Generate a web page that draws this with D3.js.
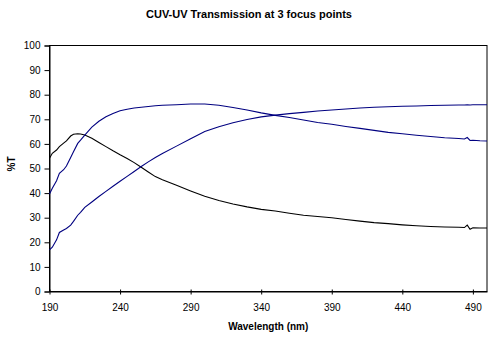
<!DOCTYPE html>
<html>
<head>
<meta charset="utf-8">
<script src="https://cdn.jsdelivr.net/npm/d3@7"></script>
<style>
html,body{margin:0;padding:0;background:#fff;}
svg{display:block;}
text{font-family:Arial,"Liberation Sans",sans-serif;fill:#000;}
</style>
</head>
<body>
<svg id="chart" width="495" height="337"></svg>
<script>
const titleText = "CUV-UV Transmission at 3 focus points";
const xTitle = "Wavelength (nm)";
const yTitle = "%T";
const xTicks = [190,240,290,340,390,440,490];
const yTicks = [0,10,20,30,40,50,60,70,80,90,100];

const wavelengths = [190,192,195,197,200,202,205,207,210,212,215,220,225,230,235,240,245,250,255,260,265,270,280,290,300,310,320,330,340,350,360,370,380,390,400,410,420,430,440,450,460,470,480,484,486,488,490,495,500];
const focusA = [54.2,56.2,57.5,58.9,60.3,61.2,63.2,63.9,64.1,64.0,63.6,62.3,60.6,58.9,57.2,55.6,54.1,52.4,50.5,48.6,46.7,45.4,43.2,40.9,38.7,37.0,35.6,34.4,33.4,32.7,31.8,31.0,30.5,30.0,29.3,28.6,28.0,27.6,27.1,26.7,26.4,26.2,26.1,26.0,27.0,25.3,25.9,25.8,25.8];
const focusB = [39.6,42.0,45.0,48.0,49.5,51.0,54.5,56.8,60.2,61.5,63.6,66.8,69.2,71.0,72.4,73.5,74.1,74.6,74.9,75.2,75.5,75.7,75.9,76.2,76.2,75.7,74.8,73.8,72.6,71.6,70.7,69.7,68.7,68.0,67.1,66.3,65.5,64.7,64.1,63.5,63.0,62.5,62.2,62.0,62.6,61.4,61.5,61.3,61.2];
const focusC = [16.9,18.0,21.0,24.0,25.0,25.6,27.0,28.5,31.0,32.2,34.2,36.4,38.6,40.7,42.8,44.8,46.8,48.8,50.8,52.7,54.5,56.1,59.1,62.1,65.0,67.0,68.6,69.9,71.0,71.7,72.3,72.8,73.4,73.8,74.2,74.6,74.9,75.1,75.3,75.4,75.6,75.7,75.8,75.8,75.9,75.8,75.9,75.9,75.9];
const seriesColors = ["#000000","#000080","#000080"];

const svg = d3.select("#chart");
const mLeft = 49.5, mRight = 487, mTop = 45.5, mBottom = 291.5;
const x = d3.scaleLinear().domain([190,500]).range([mLeft,mRight]);
const y = d3.scaleLinear().domain([0,100]).range([mBottom,mTop]);

// plot frame
svg.append("rect").attr("x",mLeft).attr("y",mTop).attr("width",mRight-mLeft).attr("height",mBottom-mTop)
  .attr("fill","#fff").attr("stroke","#000").attr("stroke-width",1);

// y axis
const yAxis = d3.axisLeft(y).tickValues(yTicks).tickSize(5).tickPadding(4);
const gy = svg.append("g").attr("transform",`translate(${mLeft},0)`).call(yAxis);
gy.selectAll("text").style("font-size","10px").attr("fill","#000");
gy.selectAll("line,path").attr("stroke","#000");

// x axis
const xAxis = d3.axisBottom(x).tickValues(xTicks).tickSize(3).tickPadding(9).tickSizeOuter(0);
const gx = svg.append("g").attr("transform",`translate(0,${mBottom})`).call(xAxis);
gx.selectAll(".tick line").attr("y1",-2);
gx.selectAll("text").style("font-size","10px").attr("fill","#000");
gx.selectAll("line,path").attr("stroke","#000");

// lines
const line = d3.line().x((d,i)=>x(wavelengths[i])).y(d=>y(d));
[focusA,focusB,focusC].forEach((s,k)=>{
  svg.append("path").datum(s).attr("d",line).attr("fill","none")
    .attr("stroke",seriesColors[k]).attr("stroke-width",1.1);
});

// titles
svg.append("text").attr("x",249).attr("y",18).attr("text-anchor","middle")
  .style("font-size","11px").style("font-weight","bold").text(titleText);
svg.append("text").attr("x",(mLeft+mRight)/2).attr("y",330).attr("text-anchor","middle")
  .style("font-size","10px").style("font-weight","bold").text(xTitle);
svg.append("text").attr("transform","translate(15,164) rotate(-90)").attr("text-anchor","middle")
  .style("font-size","10px").style("font-weight","bold").text(yTitle);
</script>
</body>
</html>
